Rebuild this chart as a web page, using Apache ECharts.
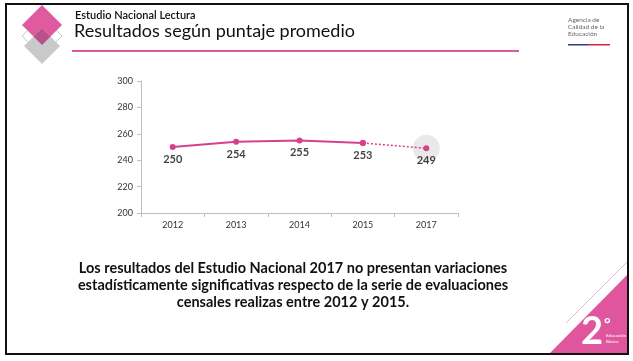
<!DOCTYPE html>
<html>
<head>
<meta charset="utf-8">
<script src="https://cdn.jsdelivr.net/npm/echarts@6/dist/echarts.min.js"></script>
<style>
html,body{margin:0;padding:0;background:#fff;}
#c{width:633px;height:361px;}
</style>
</head>
<body>
<div id="c"></div>
<script>
const categories = ['2012', '2013', '2014', '2015', '2017'];
const scores = [250, 254, 255, 253, 249];
const yTicks = { min: 200, max: 300, interval: 20 };
const headerSub = 'Estudio Nacional Lectura';
const headerTitle = 'Resultados según puntaje promedio';
const noteLines = [
  'Los resultados del Estudio Nacional 2017 no presentan variaciones',
  'estadísticamente significativas respecto de la serie de evaluaciones',
  'censales realizas entre 2012 y 2015.'
];

const PINK = '#d6408e';
const FONT = 'Lato, "Open Sans", sans-serif';

// solid part: 2012-2015 ; dotted part: 2015-2017
const solid = scores.map((v, i) => i <= 3 ? v : '-');
const dotted = scores.map((v, i) => i >= 3 ? v : '-');
const highlight = scores.map((v, i) => i === 4 ? v : '-');

const chart = echarts.init(document.getElementById('c'), null, {renderer: 'canvas'});

const diamond = (cx, cy, r) => [[cx, cy - r], [cx + r, cy], [cx, cy + r], [cx - r, cy]];

chart.setOption({
  animation: false,
  backgroundColor: '#fff',
  grid: { left: 141, right: 175, top: 81, bottom: 148 },
  xAxis: {
    type: 'category',
    data: categories,
    boundaryGap: true,
    axisLine: { lineStyle: { color: '#bfbfbf', width: 1 } },
    axisTick: { show: true, length: 4, lineStyle: { color: '#bfbfbf' } },
    axisLabel: { color: '#333', fontSize: 9, fontFamily: FONT, margin: 8 }
  },
  yAxis: {
    type: 'value',
    min: yTicks.min, max: yTicks.max, interval: yTicks.interval,
    axisLine: { show: true, lineStyle: { color: '#bfbfbf', width: 1 } },
    axisTick: { show: true, length: 4, lineStyle: { color: '#bfbfbf' } },
    splitLine: { show: false },
    axisLabel: { color: '#333', fontSize: 9, fontFamily: FONT, margin: 8 }
  },
  series: [
    {
      type: 'scatter', data: highlight, symbolSize: 27, z: 1,
      itemStyle: { color: '#e3e3e3' }, silent: true
    },
    {
      type: 'line', data: dotted, z: 2,
      lineStyle: { color: PINK, width: 1.5, type: [2, 2] },
      symbol: 'circle', symbolSize: 6, showSymbol: true,
      itemStyle: { color: PINK },
      label: { show: false }
    },
    {
      type: 'line', data: solid, z: 3,
      lineStyle: { color: PINK, width: 2 },
      symbol: 'circle', symbolSize: 6,
      itemStyle: { color: PINK },
      label: { show: false }
    },
    {
      type: 'scatter', data: scores, z: 4, symbolSize: 0,
      label: {
        show: true, position: 'bottom', distance: 7,
        color: '#111', fontSize: 11, fontWeight: 'bold', fontFamily: FONT
      }
    }
  ],
  graphic: [
    // slide border
    { type: 'rect', shape: { x: 6, y: 4, width: 622, height: 350 },
      style: { fill: null, stroke: '#111', lineWidth: 2 }, z: 0 },
    // diamonds
    { type: 'polygon', shape: { points: diamond(42, 36, 20) },
      style: { fill: '#fff', stroke: '#c8c8c8', lineWidth: 1 }, z: 1 },
    { type: 'polygon', shape: { points: diamond(42, 25, 20) },
      style: { fill: '#e05a9f' }, z: 2 },
    { type: 'polygon', shape: { points: diamond(42, 46, 18) },
      style: { fill: '#c9c9cb' }, z: 3 },
    { type: 'polygon', shape: { points: [[42, 28], [50.5, 36.5], [42, 45], [33.5, 36.5]] },
      style: { fill: '#b9508a' }, z: 4 },
    // header texts
    { type: 'text', left: 75, top: 10,
      style: { text: headerSub, font: '600 11px ' + FONT, fill: '#111' } },
    { type: 'text', left: 74, top: 22,
      style: { text: headerTitle, font: '18px ' + FONT, fill: '#111' } },
    { type: 'rect', shape: { x: 72, y: 50, width: 447, height: 2 },
      style: { fill: '#dc5aa0' } },
    // agency logo
    { type: 'text', left: 568, top: 16,
      style: { text: 'Agencia de\nCalidad de la\nEducación', font: '6.5px ' + FONT,
        fill: '#666', lineHeight: 7 } },
    { type: 'rect', shape: { x: 568, y: 44, width: 20, height: 1.5 }, style: { fill: '#2a3e8f' } },
    { type: 'rect', shape: { x: 588, y: 44, width: 22, height: 1.5 }, style: { fill: '#d3263a' } },
    // note
    { type: 'text', x: 293, y: 260,
      style: { text: noteLines.join('\n'), font: 'bold 14.5px ' + FONT, fill: '#111',
        textAlign: 'center', textVerticalAlign: 'top', lineHeight: 17 } },
    // bottom-right corner
    { type: 'polygon', shape: { points: [[627, 275], [627, 353], [550, 353]] },
      style: { fill: '#e0569e' } },
    { type: 'line', shape: { x1: 627, y1: 262, x2: 566, y2: 323 },
      style: { stroke: '#d8a8c4', lineWidth: 0.8 } },
    { type: 'text', left: 581, top: 313,
      style: { text: '2', font: 'bold 38px ' + FONT, fill: '#fff' } },
    { type: 'text', left: 604, top: 316,
      style: { text: '°', font: 'bold 16px ' + FONT, fill: '#fff' } },
    { type: 'text', left: 606, top: 333,
      style: { text: 'Educación\nBásica', font: '4.5px ' + FONT, fill: '#fff', lineHeight: 6 } }
  ]
});
</script>
</body>
</html>
